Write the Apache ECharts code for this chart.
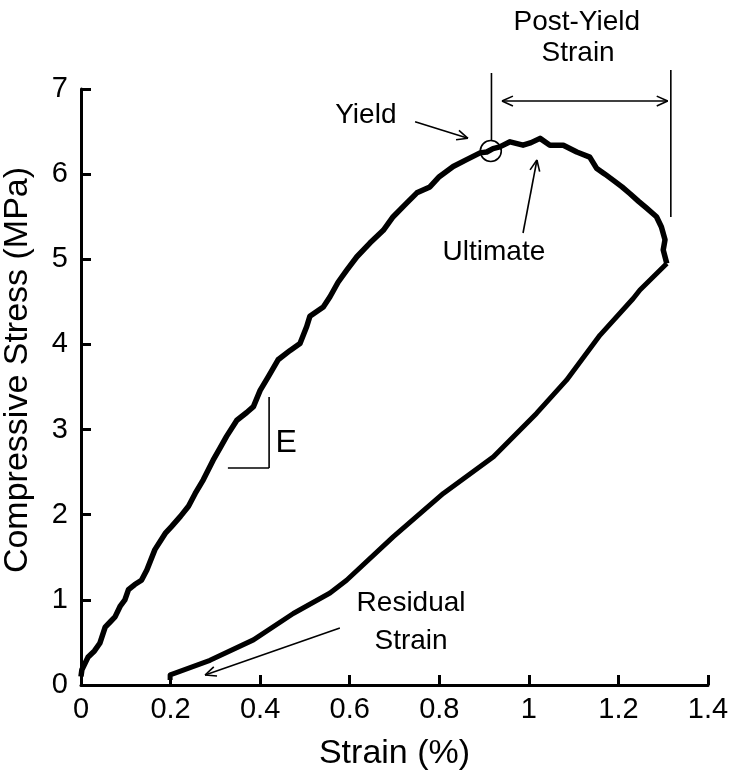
<!DOCTYPE html>
<html><head><meta charset="utf-8">
<script src="https://cdn.jsdelivr.net/npm/echarts@6/dist/echarts.min.js"></script>
<style>html,body{margin:0;padding:0;background:#fff}#c{width:734px;height:778px}</style>
</head><body><div id="c"></div>
<script>
// Loading branch (strain %, stress MPa)
const loadX = [0, 0.002, 0.016, 0.03, 0.042, 0.054, 0.065, 0.076, 0.088, 0.098, 0.106, 0.12, 0.135, 0.147, 0.165, 0.188, 0.202, 0.222, 0.24, 0.255, 0.273, 0.295, 0.31, 0.325, 0.348, 0.37, 0.385, 0.40, 0.418, 0.44, 0.467, 0.489, 0.504, 0.511, 0.541, 0.556, 0.574, 0.593, 0.616, 0.645, 0.675, 0.697, 0.727, 0.75, 0.779, 0.80, 0.831, 0.861, 0.891, 0.906, 0.92, 0.935, 0.958, 0.987, 1.005, 1.025, 1.047, 1.077, 1.107, 1.136, 1.151, 1.17, 1.188, 1.208, 1.226, 1.245, 1.263, 1.285, 1.296, 1.304, 1.30, 1.308];
const loadY = [0.1, 0.18, 0.33, 0.4, 0.49, 0.68, 0.74, 0.80, 0.93, 1.0, 1.12, 1.18, 1.23, 1.35, 1.59, 1.78, 1.86, 1.98, 2.1, 2.25, 2.41, 2.64, 2.78, 2.92, 3.11, 3.2, 3.27, 3.46, 3.62, 3.82, 3.93, 4.01, 4.21, 4.33, 4.44, 4.56, 4.73, 4.87, 5.03, 5.19, 5.34, 5.50, 5.66, 5.78, 5.85, 5.97, 6.09, 6.17, 6.25, 6.26, 6.30, 6.32, 6.38, 6.34, 6.37, 6.42, 6.34, 6.34, 6.26, 6.20, 6.07, 6.0, 5.93, 5.85, 5.77, 5.68, 5.60, 5.50, 5.38, 5.23, 5.11, 4.95];
// Unloading branch
const unloadX = [1.308, 1.248, 1.233, 1.159, 1.084, 1.017, 0.921, 0.809, 0.697, 0.593, 0.556, 0.474, 0.385, 0.288, 0.21, 0.199, 0.199];
const unloadY = [4.95, 4.64, 4.54, 4.11, 3.58, 3.19, 2.68, 2.25, 1.74, 1.23, 1.08, 0.84, 0.53, 0.29, 0.14, 0.12, 0.06];

// Annotation texts: [text, x, y, fontSize] in data units
const annoTexts = [['Yield', 0.636, 6.695, 28], ['Ultimate', 0.922, 5.08, 28], ['Post-Yield', 1.107, 7.787, 28], ['Strain', 1.110, 7.423, 28], ['E', 0.458, 2.842, 32], ['Residual', 0.737, 0.963, 28], ['Strain', 0.737, 0.517, 28]];
// Arrows: [x1,y1,x2,y2,doubleHead]
const annoArrows = [[0.746, 6.616, 0.864, 6.421, 0], [0.987, 5.309, 1.018, 6.166, 0], [0.578, 0.669, 0.277, 0.117, 0], [0.94, 6.859, 1.310, 6.859, 1]];
// Plain lines
const annoLines = [[0.9165, 7.188, 0.9165, 6.401], [1.317, 7.223, 1.317, 5.497], [0.328, 2.549, 0.420, 2.549], [0.420, 2.549, 0.420, 3.383]];
const yieldCircle = [0.915, 6.272];

const FONT = '"Liberation Sans", Arial, sans-serif';
const zip = (a, b) => a.map((v, i) => [v, b[i]]);
const chart = echarts.init(document.getElementById('c'), null, {renderer: 'canvas'});
const axisCommon = {
  type: 'value', nameLocation: 'middle',
  nameTextStyle: {fontSize: 34, color: '#000', fontFamily: FONT},
  axisLine: {show: true, lineStyle: {color: '#000', width: 3}},
  axisTick: {show: true, inside: true, length: 10, lineStyle: {color: '#000', width: 3}},
  axisLabel: {fontSize: 29, color: '#000', fontFamily: FONT},
  splitLine: {show: false}
};
chart.setOption({
  animation: false,
  backgroundColor: '#fff',
  grid: {left: 81, right: 26, top: 89, bottom: 93, containLabel: false, outerBoundsMode: 'none'},
  xAxis: Object.assign({}, axisCommon, {min: 0, max: 1.4, interval: 0.2, name: 'Strain (%)', nameGap: 52,
    axisLabel: Object.assign({}, axisCommon.axisLabel, {margin: 10})}),
  yAxis: Object.assign({}, axisCommon, {min: 0, max: 7, interval: 1, name: 'Compressive Stress (MPa)', nameGap: 46,
    nameTextStyle: Object.assign({}, axisCommon.nameTextStyle, {padding: [0, 0, 0, 34]}),
    axisLabel: Object.assign({}, axisCommon.axisLabel, {margin: 13})}),
  series: [
    {type: 'line', data: zip(loadX, loadY), showSymbol: false, clip: false, lineStyle: {color: '#000', width: 5.5, join: 'round'}},
    {type: 'line', data: zip(unloadX, unloadY), showSymbol: false, clip: false, lineStyle: {color: '#000', width: 5, join: 'round'}}
  ]
});

const P = (x, y) => chart.convertToPixel({gridIndex: 0}, [x, y]);
const g = [];
const thin = {stroke: '#000', lineWidth: 1.6};
annoTexts.forEach(t => {
  const p = P(t[1], t[2]);
  g.push({type: 'text', x: p[0], y: p[1], style: {text: t[0], fill: '#000', font: t[3] + 'px ' + FONT, textAlign: 'center', textVerticalAlign: 'middle'}});
});
annoLines.forEach(l => {
  const a = P(l[0], l[1]), b = P(l[2], l[3]);
  g.push({type: 'line', shape: {x1: a[0], y1: a[1], x2: b[0], y2: b[1]}, style: thin});
});
function head(tip, from) {
  const ang = Math.atan2(tip[1] - from[1], tip[0] - from[0]);
  const L = 12, w = 0.42;
  [ang + Math.PI - w, ang + Math.PI + w].forEach(a2 => {
    g.push({type: 'line', shape: {x1: tip[0], y1: tip[1], x2: tip[0] + L * Math.cos(a2), y2: tip[1] + L * Math.sin(a2)}, style: thin});
  });
}
annoArrows.forEach(r => {
  const a = P(r[0], r[1]), b = P(r[2], r[3]);
  g.push({type: 'line', shape: {x1: a[0], y1: a[1], x2: b[0], y2: b[1]}, style: thin});
  head(b, a);
  if (r[4]) head(a, b);
});
const c = P(yieldCircle[0], yieldCircle[1]);
g.push({type: 'circle', shape: {cx: c[0], cy: c[1], r: 10.5}, style: {fill: 'none', stroke: '#000', lineWidth: 1.6}});
chart.setOption({graphic: g});
</script>
</body></html>
